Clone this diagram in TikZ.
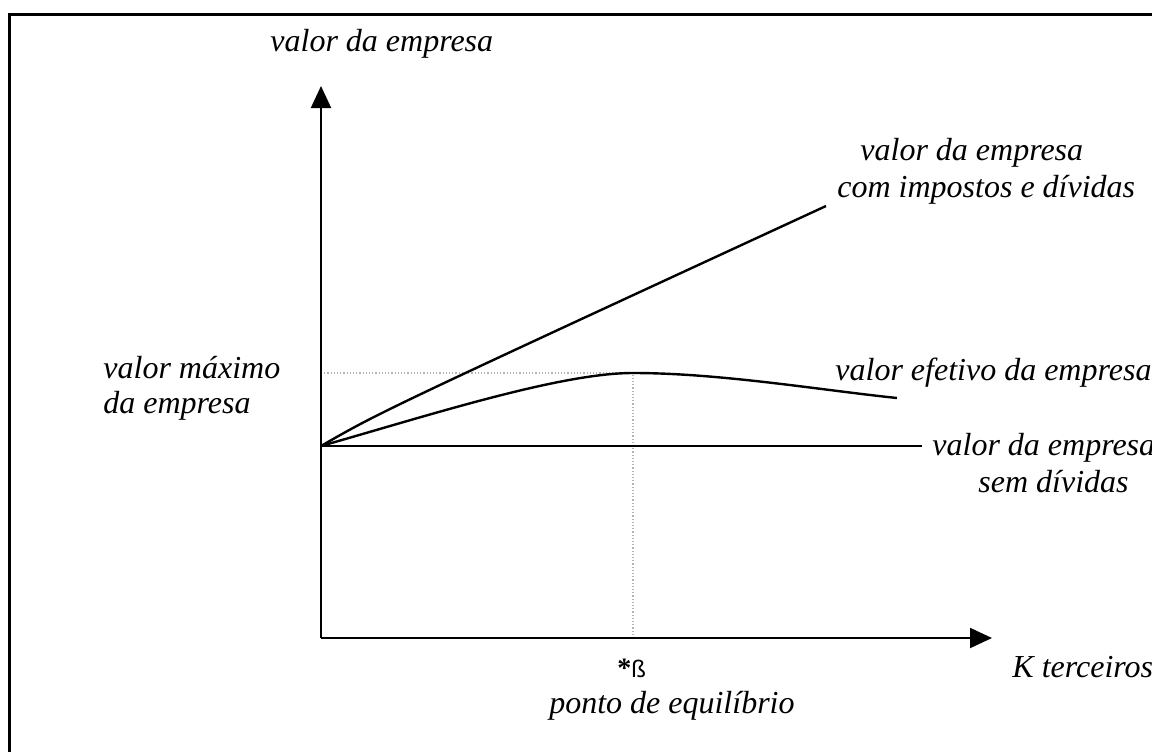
\documentclass[tikz,border=0pt]{standalone}
\usepackage{fontspec}
\setmainfont{Liberation Serif}
\newfontfamily\betafont{Liberation Sans}
\usetikzlibrary{arrows.meta}

\tikzset{
  rotulo/.style={font=\fontsize{16}{18.5}\selectfont\itshape, inner sep=0pt},
  eixo/.style={line width=1pt, -{Triangle[width=10pt,length=11pt]}},
  curva/.style={line width=1.2pt},
  guia/.style={gray!60, densely dotted, line width=0.6pt}
}

\begin{document}
\begin{tikzpicture}[x=0.5pt,y=-0.5pt]

\useasboundingbox (0,0) rectangle (1152,751);

% Moldura
\begin{scope}
\clip (0,0) rectangle (1152,751);
\draw[line width=1.5pt] (9,14) rectangle (1175,775);
\end{scope}

% Pontos
\coordinate (O) at (321,638);
\coordinate (Ytop) at (321,86);
\coordinate (Xend) at (992,638);
\coordinate (V0) at (321,446);
\coordinate (Vsem) at (922,446);
\coordinate (Vcom) at (826,206);
\coordinate (Vmax) at (633,373);
\coordinate (Vef) at (897,398);
\coordinate (Ymax) at (321,373);
\coordinate (Xmax) at (633,638);

% Linhas guia
\draw[guia] (Ymax) -- (Vmax) -- (Xmax);

% Eixos
\draw[eixo] (O) -- (Ytop);
\draw[eixo] (O) -- (Xend);

% Curvas
\draw[curva] (V0) -- (Vsem);
\draw[curva] (V0) .. controls (380,412) .. (Vcom);
\draw[curva] (V0) .. controls (430,415) and (560,373) .. (Vmax)
                  .. controls (720,373) and (820,390) .. (Vef);

% Rotulos
\node[rotulo, anchor=base west] (ytit) at (270,51) {valor da empresa};
\node[rotulo, anchor=base west] (com1) at (860,160) {valor da empresa};
\node[rotulo, anchor=base west] (com2) at (837,197) {com impostos e dívidas};
\node[rotulo, anchor=base west] (max1) at (103,378) {valor máximo};
\node[rotulo, anchor=base west] (max2) at (103,413) {da empresa};
\node[rotulo, anchor=base west] (efet) at (835,380) {valor efetivo da empresa};
\node[rotulo, anchor=base west] (sem1) at (932,455) {valor da empresa};
\node[rotulo, anchor=base west] (sem2) at (978,492) {sem dívidas};
\node[rotulo, anchor=base west] (xtit) at (1012,677) {K terceiros};
\node[inner sep=0pt, anchor=base west] (beta) at (617,677)
  {\fontsize{14}{16}\selectfont\bfseries *\betafont\mdseries\fontsize{12}{14}\selectfont ß};
\node[rotulo, anchor=base east] (equi) at (795,713) {ponto de equilíbrio};

\end{tikzpicture}
\end{document}
